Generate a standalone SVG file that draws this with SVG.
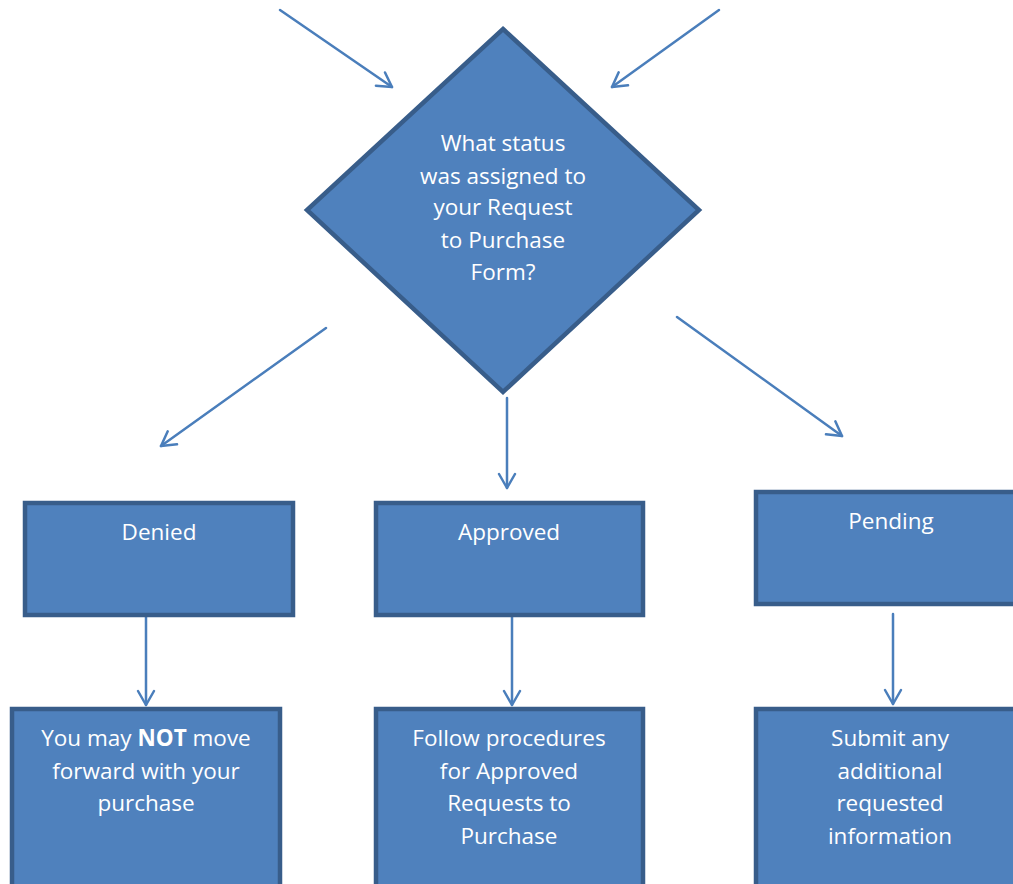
<svg xmlns="http://www.w3.org/2000/svg" width="1013" height="884" viewBox="0 0 1013 884">
<defs>
<style>
.shape{fill:#4F81BD;stroke:#385D8A;stroke-width:4.5}
.t{font-family:"Open Sans","Liberation Sans",sans-serif;font-size:22.5px;fill:#FFFFFF;text-anchor:middle}
.c{stroke:#4A7EBB;stroke-width:2.5;fill:none;stroke-linecap:round}
</style>
<marker id="ah" viewBox="0 0 20 20" refX="18" refY="10" markerWidth="20" markerHeight="20" markerUnits="userSpaceOnUse" orient="auto">
<path d="M4,2 L18,10 L4,18" fill="none" stroke="#4A7EBB" stroke-width="2.5" stroke-linecap="round" stroke-linejoin="round"/>
</marker>
</defs>
<rect width="1013" height="884" fill="#FFFFFF"/>
<g id="connectors">
<line class="c" x1="280" y1="10" x2="392" y2="87" marker-end="url(#ah)"/>
<line class="c" x1="719" y1="10" x2="612" y2="87" marker-end="url(#ah)"/>
<line class="c" x1="326" y1="328" x2="161" y2="446" marker-end="url(#ah)"/>
<line class="c" x1="507" y1="398" x2="507" y2="488" marker-end="url(#ah)"/>
<line class="c" x1="677" y1="317" x2="842" y2="436" marker-end="url(#ah)"/>
<line class="c" x1="146" y1="616" x2="146" y2="705" marker-end="url(#ah)"/>
<line class="c" x1="512" y1="616" x2="512" y2="705" marker-end="url(#ah)"/>
<line class="c" x1="893" y1="614" x2="893" y2="704" marker-end="url(#ah)"/>
</g>
<g id="decision">
<polygon class="shape" points="503,29 699,210 503,392 307,210"/>
<text class="t" x="503" y="151">What status</text>
<text class="t" x="503" y="183.5">was assigned to</text>
<text class="t" x="503" y="215">your Request</text>
<text class="t" x="503" y="248">to Purchase</text>
<text class="t" x="503" y="280">Form?</text>
</g>
<g id="denied">
<rect class="shape" x="25" y="503" width="268" height="112"/>
<text class="t" x="159" y="540">Denied</text>
</g>
<g id="approved">
<rect class="shape" x="376" y="503" width="267" height="112"/>
<text class="t" x="509" y="540">Approved</text>
</g>
<g id="pending">
<rect class="shape" x="756" y="492" width="262" height="112"/>
<text class="t" x="891" y="529">Pending</text>
</g>
<g id="denied-result">
<rect class="shape" x="12" y="709" width="268" height="180"/>
<text class="t" x="146" y="746">You may <tspan font-weight="bold">NOT</tspan> move</text>
<text class="t" x="146" y="779">forward with your</text>
<text class="t" x="146" y="811">purchase</text>
</g>
<g id="approved-result">
<rect class="shape" x="376" y="709" width="267" height="180"/>
<text class="t" x="509" y="746">Follow procedures</text>
<text class="t" x="509" y="779">for Approved</text>
<text class="t" x="509" y="811">Requests to</text>
<text class="t" x="509" y="844">Purchase</text>
</g>
<g id="pending-result">
<rect class="shape" x="756" y="709" width="262" height="180"/>
<text class="t" x="890" y="746">Submit any</text>
<text class="t" x="890" y="779">additional</text>
<text class="t" x="890" y="811">requested</text>
<text class="t" x="890" y="844">information</text>
</g>
</svg>
